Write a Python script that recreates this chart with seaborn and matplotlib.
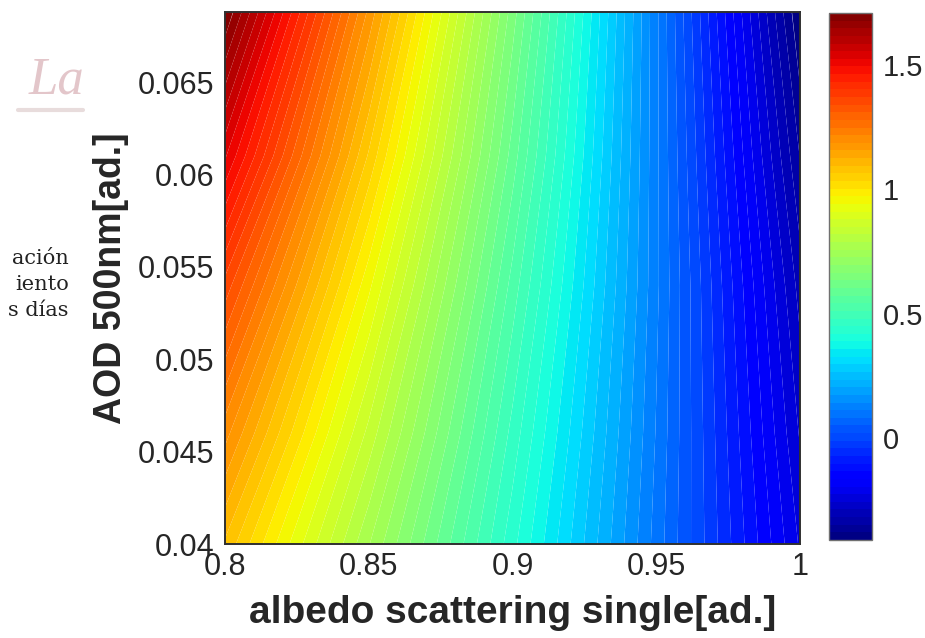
import numpy as np
import matplotlib
matplotlib.use("Agg")
import matplotlib.pyplot as plt
import seaborn as sns

# ---- data ----
albedo = [0.80, 0.85, 0.90, 0.95, 1.00]
aod = [0.040, 0.046, 0.054, 0.061, 0.0688]
forcing_aod_040 = [1.09, 0.76, 0.43, 0.10, -0.23]
forcing_aod_046 = [1.20, 0.84, 0.47, 0.11, -0.26]
forcing_aod_054 = [1.36, 0.95, 0.53, 0.12, -0.30]
forcing_aod_061 = [1.53, 1.06, 0.59, 0.12, -0.35]
forcing_aod_069 = [1.71, 1.18, 0.65, 0.12, -0.41]
x_ticks = [0.8, 0.85, 0.9, 0.95, 1.0]
x_tick_labels = ["0.8", "0.85", "0.9", "0.95", "1"]
y_ticks = [0.04, 0.045, 0.05, 0.055, 0.06, 0.065]
y_tick_labels = ["0.04", "0.045", "0.05", "0.055", "0.06", "0.065"]
cb_ticks = [0, 0.5, 1, 1.5]
cb_tick_labels = ["0", "0.5", "1", "1.5"]

Z = np.array([forcing_aod_040, forcing_aod_046, forcing_aod_054,
              forcing_aod_061, forcing_aod_069])
X, Y = np.meshgrid(albedo, aod)

sns.set_style("white")
plt.rcParams["font.family"] = ["Liberation Sans", "DejaVu Sans"]

fig = plt.figure(figsize=(9.25, 6.38), dpi=100)
ax = fig.add_axes([225 / 925, 1 - 544 / 638, 575 / 925, 532 / 638])
cax = fig.add_axes([829 / 925, 1 - 540 / 638, 43 / 925, 527 / 638])

levels = np.linspace(Z.min(), Z.max(), 70)
cs = ax.contourf(X, Y, Z, levels=levels, cmap="jet", antialiased=True)

ax.set_xlim(0.8, 1.0)
ax.set_ylim(0.04, 0.0688)
ax.set_xticks(x_ticks)
ax.set_xticklabels(x_tick_labels)
ax.set_yticks(y_ticks)
ax.set_yticklabels(y_tick_labels)
txtc = "#262626"
ax.tick_params(axis="both", direction="in", length=5, width=0.8,
               labelsize=22, colors=txtc)
ax.tick_params(axis="y", pad=8)
ax.tick_params(axis="x", pad=6)
for s in ax.spines.values():
    s.set_color("#303030")
    s.set_linewidth(1.4)
ax.set_xlabel("albedo scattering single[ad.]", fontsize=28, fontweight="bold",
              color=txtc, labelpad=9)
ax.set_ylabel("AOD 500nm[ad.]", fontsize=27, fontweight="bold",
              color=txtc, labelpad=6)

cb = fig.colorbar(cs, cax=cax)
cb.set_ticks(cb_ticks)
cb.set_ticklabels(cb_tick_labels)
cb.ax.tick_params(direction="in", length=5, width=0.8, labelsize=21,
                  colors=txtc, pad=8)
cb.outline.set_edgecolor("#707070")
cb.outline.set_linewidth(1.0)

# background document fragments visible at the left
fig.text(84 / 925, 1 - 80 / 638, "La", fontsize=38, family="Liberation Serif",
         style="italic", color="#e3c6ca", va="center", ha="right")
fig.add_artist(plt.Line2D([18 / 925, 83 / 925], [1 - 110 / 638, 1 - 110 / 638],
                          color="#e8dcdc", lw=3))
for yy, t in [(258, "ación"), (284, "iento"), (311, "s días")]:
    fig.text(69 / 925, 1 - yy / 638, t, fontsize=15, family="DejaVu Serif",
             color="#222222", va="center", ha="right")

fig.savefig("out.png", dpi=100)
